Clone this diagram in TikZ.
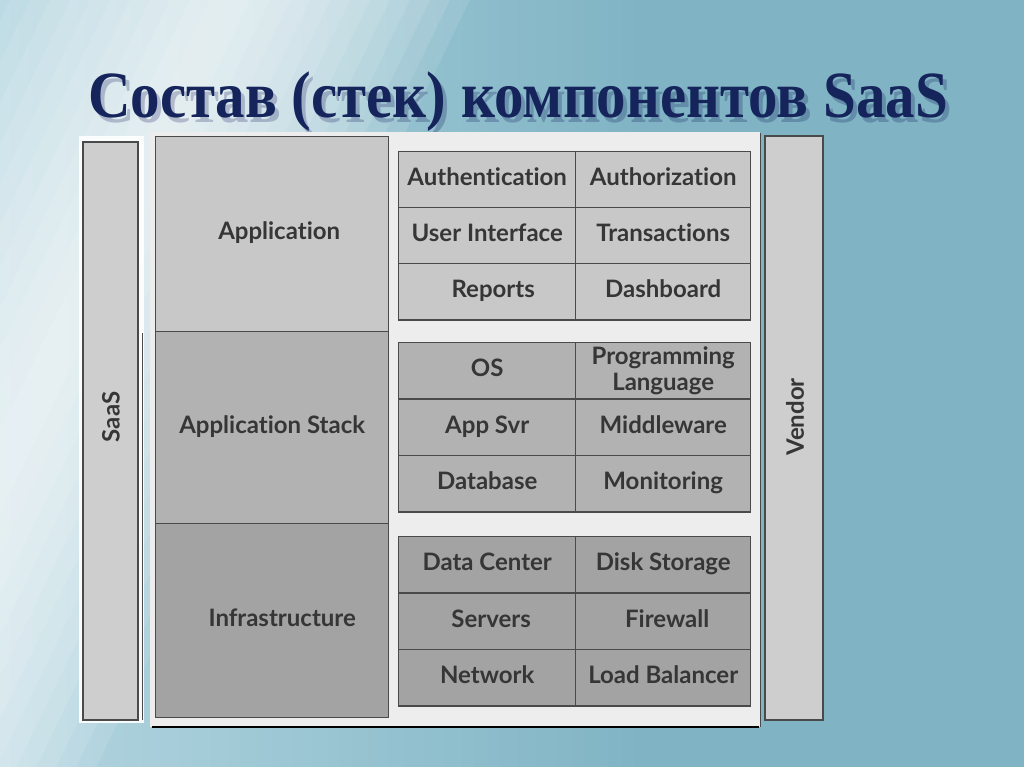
\documentclass[tikz,border=0pt]{standalone}
\usepackage{fontspec}
\setmainfont{Lato}[Ligatures=NoCommon]
\newfontfamily\titlefont{Liberation Serif}

\definecolor{bgteal}{HTML}{80B4C4}
\definecolor{bglight}{HTML}{B4D6E1}
\definecolor{navy}{HTML}{15255C}
\definecolor{frame}{HTML}{4A4A4A}
\definecolor{ink}{HTML}{363636}
\definecolor{paneltone}{HTML}{EDEDED}
\definecolor{toneA}{HTML}{C8C8C8}
\definecolor{toneB}{HTML}{B2B2B2}
\definecolor{toneC}{HTML}{A3A3A3}
\definecolor{sidetone}{HTML}{CECECE}

\newcommand{\slidetitle}{\resizebox{860pt}{\height}{\titlefont\bfseries\fontsize{66}{66}\selectfont Состав (стек) компонентов SaaS}}

\tikzset{
  box/.style={draw=frame, line width=1.4pt, text=ink, inner sep=0pt, anchor=north west,
    align=center, text height=16pt, text depth=5pt, font=\fontsize{24}{25}\selectfont\bfseries},
  sidebar/.style={draw=frame, line width=1.2pt, fill=sidetone, inner sep=0pt},
  sidelabel/.style={text=ink, rotate=90, font=\fontsize{24}{25}\selectfont\bfseries},
}

\begin{document}
\begin{tikzpicture}[x=1pt,y=-1pt]
  %%%%% START %%%%%
  \def\cola{398}
  \def\colb{575}
  \def\wa{177pt}
  \def\wb{175pt}
  \def\rh{56.3pt}

  \useasboundingbox (0,0) rectangle (1024,767);

  % background
  \begin{scope}
    \clip (0,0) rectangle (1024,767);
    \fill[bgteal] (0,0) rectangle (1024,767);
    \shade[left color=bglight, right color=bgteal] (0,0) rectangle (640,767);
    \foreach \w in {20,40,...,240}
      \fill[white, opacity=0.1] (230-\w,0) -- (230+\w,0) -- (-160+\w,800) -- (-160-\w,800) -- cycle;
  \end{scope}

  % title with shadow
  \node[anchor=base, text=black!70!blue, opacity=0.22] (titleshadow) at (522,123) {\slidetitle};
  \node[anchor=base, text=navy] (title) at (518,118) {\slidetitle};

  % panel
  \fill[white, opacity=0.9] (79,136) rectangle (144,723);
  \fill[paneltone] (150,132) rectangle (760,727);
  \draw[frame, line width=1pt] (760,133) -- (760,727);
  \draw[black, line width=2pt] (152,727) -- (759,727);
  \draw[frame, line width=1pt] (142,333) -- (142,720);

  % side bars
  \node[sidebar, minimum width=578pt, minimum height=55pt, rotate=90] (saas) at (110.5,431) {};
  \node[sidelabel] (saaslbl) at (111,417) {SaaS};
  \node[sidebar, minimum width=584pt, minimum height=58pt, rotate=90] (vendor) at (794,428) {};
  \node[sidelabel] (vendorlbl) at (795,417) {Vendor};

  % layers
  \node[box, fill=toneA, minimum width=233pt, minimum height=195pt] (app) at (155,136) {\hspace*{14pt}Application};
  \node[box, fill=toneB, minimum width=233pt, minimum height=192pt] (stack) at (155,331) {Application Stack};
  \node[box, fill=toneC, minimum width=233pt, minimum height=194pt] (infra) at (155,523) {\hspace*{20pt}Infrastructure};

  % application components
  \node[box, fill=toneA, minimum width=\wa, minimum height=\rh] (authn) at (\cola,151) {Authentication};
  \node[box, fill=toneA, minimum width=\wb, minimum height=\rh] (authz) at (\colb,151) {Authorization};
  \node[box, fill=toneA, minimum width=\wa, minimum height=\rh] (ui) at (\cola,207) {User Interface};
  \node[box, fill=toneA, minimum width=\wb, minimum height=\rh] (trans) at (\colb,207) {Transactions};
  \node[box, fill=toneA, minimum width=\wa, minimum height=\rh] (reports) at (\cola,263) {\hspace*{12pt}Reports};
  \node[box, fill=toneA, minimum width=\wb, minimum height=\rh] (dash) at (\colb,263) {Dashboard};

  % stack components
  \node[box, fill=toneB, minimum width=\wa, minimum height=\rh] (os) at (\cola,342) {OS};
  \node[box, fill=toneB, minimum width=\wb, minimum height=\rh, text height=, text depth=,
    font=\fontsize{24}{26}\selectfont\bfseries] (lang) at (\colb,342) {Programming\\Language};
  \node[box, fill=toneB, minimum width=\wa, minimum height=\rh] (appsvr) at (\cola,399) {App Svr};
  \node[box, fill=toneB, minimum width=\wb, minimum height=\rh] (mw) at (\colb,399) {Middleware};
  \node[box, fill=toneB, minimum width=\wa, minimum height=\rh] (db) at (\cola,455) {Database};
  \node[box, fill=toneB, minimum width=\wb, minimum height=\rh] (mon) at (\colb,455) {Monitoring};

  % infrastructure components
  \node[box, fill=toneC, minimum width=\wa, minimum height=\rh] (dc) at (\cola,536) {Data Center};
  \node[box, fill=toneC, minimum width=\wb, minimum height=\rh] (disk) at (\colb,536) {Disk Storage};
  \node[box, fill=toneC, minimum width=\wa, minimum height=\rh] (srv) at (\cola,593) {\hspace*{8pt}Servers};
  \node[box, fill=toneC, minimum width=\wb, minimum height=\rh] (fw) at (\colb,593) {\hspace*{8pt}Firewall};
  \node[box, fill=toneC, minimum width=\wa, minimum height=\rh] (net) at (\cola,649) {Network};
  \node[box, fill=toneC, minimum width=\wb, minimum height=\rh] (lb) at (\colb,649) {Load Balancer};
  %%%%% END %%%%%
\end{tikzpicture}
\end{document}
